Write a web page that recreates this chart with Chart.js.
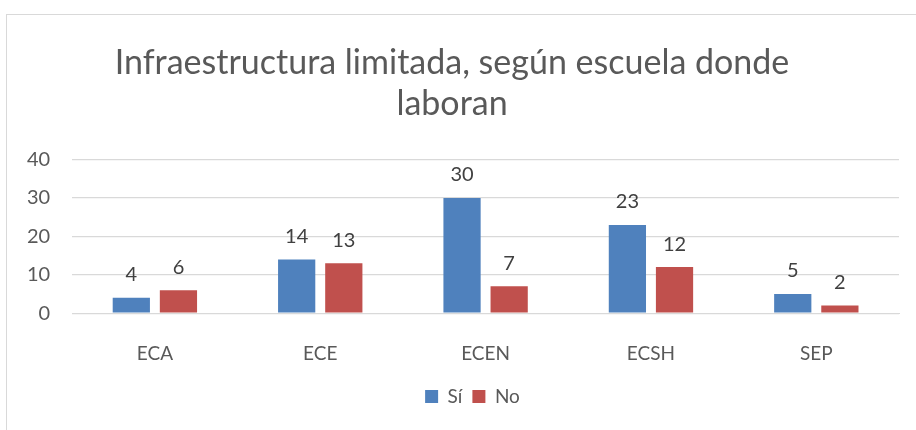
<!DOCTYPE html>
<html>
<head>
<meta charset="utf-8">
<script src="https://cdn.jsdelivr.net/npm/chart.js@4"></script>
<style>
  html, body { margin: 0; padding: 0; background: #fff; }
  #frame {
    position: absolute; left: 6px; top: 14px; width: 930px; height: 430px;
    border: 1px solid #d9d9d9; box-sizing: border-box;
  }
  #wrap { position: absolute; left: 0; top: 0; width: 916px; height: 430px; }
</style>
</head>
<body>
<div id="frame"></div>
<div id="wrap"><canvas id="chart"></canvas></div>
<script>
// chart data
const categories = ['ECA', 'ECE', 'ECEN', 'ECSH', 'SEP'];
const siValues = [4, 14, 30, 23, 5];
const noValues = [6, 13, 7, 12, 2];
const yTicks = [0, 10, 20, 30, 40];

const FONT = 'Lato, "Open Sans", sans-serif';

// draw value above each bar
const valueLabels = {
  id: 'valueLabels',
  afterDatasetsDraw(chart) {
    const ctx = chart.ctx;
    ctx.save();
    ctx.font = '20px ' + FONT;
    ctx.fillStyle = '#404040';
    ctx.textAlign = 'center';
    ctx.textBaseline = 'bottom';
    chart.data.datasets.forEach((ds, i) => {
      chart.getDatasetMeta(i).data.forEach((bar, j) => {
        ctx.fillText(ds.data[j], bar.x, bar.y - 13);
      });
    });
    ctx.restore();
  }
};

// tighten the legend box and center it under the plot area
const legendShift = {
  id: 'legendShift',
  beforeLayout(chart) {
    const lg = chart.legend;
    if (lg && !lg._tight) {
      const fit = lg.fit.bind(lg);
      lg.fit = function () { fit(); this.height -= 9; };
      lg._tight = true;
    }
  },
  afterLayout(chart) {
    if (chart.legend) {
      chart.legend.left += 41;
      chart.legend.top -= 9;
    }
  }
};

function createChart() {
  const ctx = document.getElementById('chart').getContext('2d');
  new Chart(ctx, {
    type: 'bar',
    data: {
      labels: categories,
      datasets: [
        { label: 'Sí', data: siValues, backgroundColor: '#4f81bd' },
        { label: 'No', data: noValues, backgroundColor: '#c0504d' }
      ]
    },
    options: {
      responsive: true,
      maintainAspectRatio: false,
      animation: false,
      layout: { padding: { left: 5, right: 17, top: 12, bottom: 14 } },
      datasets: {
        bar: { categoryPercentage: 0.57, barPercentage: 0.79 }
      },
      plugins: {
        title: {
          display: true,
          text: ['Infraestructura limitada, según escuela donde', 'laboran'],
          color: '#595959',
          font: { family: FONT, size: 34, weight: 'normal' },
          lineHeight: 1.27,
          padding: { top: 31, bottom: 35 }
        },
        legend: {
          position: 'bottom',
          labels: {
            color: '#595959',
            font: { family: FONT, size: 19 },
            boxWidth: 13,
            boxHeight: 13,
            padding: 10
          }
        },
        tooltip: { enabled: false }
      },
      scales: {
        x: {
          grid: { display: false },
          border: { display: true, color: '#d9d9d9' },
          ticks: { color: '#595959', font: { family: FONT, size: 19 }, padding: 21 }
        },
        y: {
          min: 0,
          max: 40,
          afterBuildTicks: (axis) => { axis.ticks = yTicks.map(v => ({ value: v })); },
          grid: { color: '#d9d9d9', lineWidth: 1.3, drawTicks: false },
          border: { display: false },
          ticks: { color: '#595959', font: { family: FONT, size: 20 }, padding: 22 }
        }
      }
    },
    plugins: [valueLabels, legendShift]
  });
}

createChart();
</script>
</body>
</html>
